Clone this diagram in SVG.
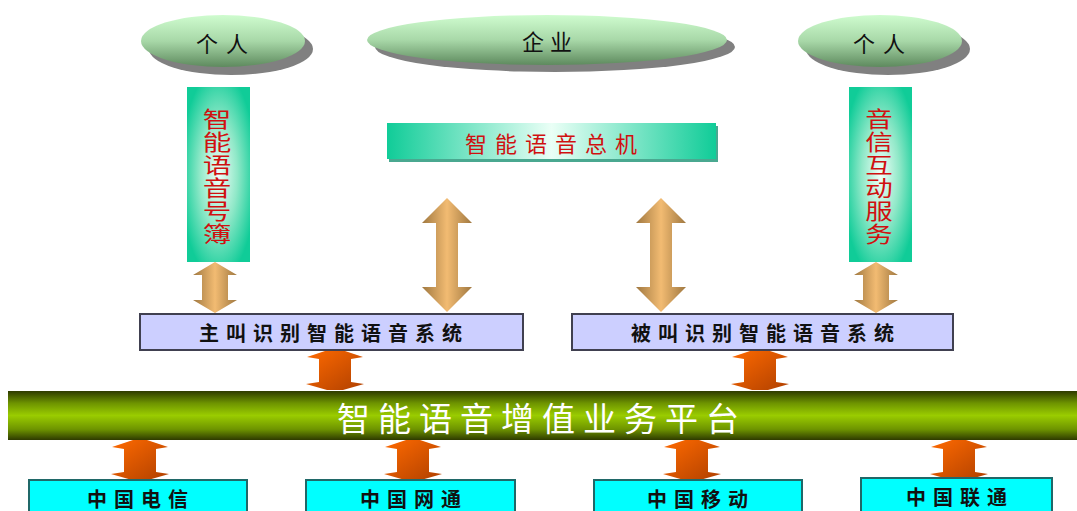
<svg xmlns="http://www.w3.org/2000/svg" width="1077" height="511" viewBox="0 0 1077 511">
<style>
.cjk{font-family:"Noto Sans CJK SC","Noto Sans CJK JP",sans-serif}
.oval{fill:url(#gOval)}
.shadow{fill:#808080}
.teal{fill:url(#gTeal)}
.red{fill:#d01010;font-size:22px;text-anchor:middle;dominant-baseline:central}
.lav{fill:#cccfff;stroke:#404050;stroke-width:2}
.lavt{fill:#111;font-size:20px;font-weight:bold;text-anchor:middle;dominant-baseline:central;letter-spacing:7px}
.cyan{fill:#00ffff;stroke:#206868;stroke-width:2}
.cyant{fill:#111;font-size:20px;font-weight:bold;text-anchor:middle;dominant-baseline:central;letter-spacing:7px}
.tan{fill:url(#gTan)}
.org{fill:url(#gOrg)}
</style>
<defs>
<linearGradient id="gOval" x1="0" y1="0" x2="0" y2="1">
<stop offset="0" stop-color="#cffccf"/><stop offset="0.5" stop-color="#a8d8a8"/><stop offset="1" stop-color="#5e8a5e"/>
</linearGradient>
<radialGradient id="gTeal" cx="0.5" cy="0.5" r="0.6">
<stop offset="0" stop-color="#f0fff8"/><stop offset="0.5" stop-color="#90e8c8"/><stop offset="1" stop-color="#10cc98"/>
</radialGradient>
<linearGradient id="gTealH" x1="0" y1="0" x2="1" y2="0">
<stop offset="0" stop-color="#10cc98"/><stop offset="0.5" stop-color="#eafff6"/><stop offset="1" stop-color="#10cc98"/>
</linearGradient>
<linearGradient id="gTan" x1="0" y1="0" x2="1" y2="0">
<stop offset="0" stop-color="#a07840"/><stop offset="0.5" stop-color="#f2bb72"/><stop offset="1" stop-color="#a07840"/>
</linearGradient>
<linearGradient id="gOrg" x1="0" y1="0" x2="1" y2="1">
<stop offset="0" stop-color="#ff6a00"/><stop offset="1" stop-color="#b04000"/>
</linearGradient>
<linearGradient id="gBar" x1="0" y1="0" x2="0" y2="1">
<stop offset="0" stop-color="#2e3a00"/><stop offset="0.25" stop-color="#6e9400"/><stop offset="0.5" stop-color="#9acc00"/><stop offset="0.78" stop-color="#6e9400"/><stop offset="1" stop-color="#2e3a00"/>
</linearGradient>
<path id="aSmall" d="M0,0 L22,13 L13,13 L13,38 L22,38 L0,51 L-22,38 L-13,38 L-13,13 L-22,13 Z"/>
<path id="aBig" d="M0,0 L25,25 L11,25 L11,89 L25,89 L0,114 L-25,89 L-11,89 L-11,25 L-25,25 Z"/>
<path id="aOrg" d="M-7,0 L7,0 L28,7 L16,9 L16,32 L29,34 L8,40 L-8,40 L-29,34 L-16,32 L-16,9 L-28,7 Z"/>
</defs>

<g id="connectors">
<use href="#aSmall" class="tan" x="215" y="262"/>
<use href="#aSmall" class="tan" x="876" y="262"/>
<use href="#aBig" class="tan" x="447" y="198"/>
<use href="#aBig" class="tan" x="661" y="198"/>
<use href="#aOrg" class="org" x="335" y="350"/>
<use href="#aOrg" class="org" x="760" y="350"/>
<use href="#aOrg" class="org" x="140" y="440"/>
<use href="#aOrg" class="org" x="413" y="440"/>
<use href="#aOrg" class="org" x="692" y="440"/>
<use href="#aOrg" class="org" x="959" y="440"/>
</g>

<g id="person-left">
<ellipse class="shadow" cx="231" cy="49" rx="82" ry="26"/>
<ellipse class="oval" cx="223" cy="41" rx="82" ry="26"/>
<text class="cjk" x="226" y="42" font-size="22" text-anchor="middle" dominant-baseline="central" letter-spacing="8" fill="#111">个人</text>
</g>
<g id="enterprise">
<ellipse class="shadow" cx="555" cy="47" rx="180" ry="25"/>
<ellipse class="oval" cx="547" cy="40" rx="180" ry="25"/>
<text class="cjk" x="550" y="40" font-size="22" text-anchor="middle" dominant-baseline="central" letter-spacing="6" fill="#111">企业</text>
</g>
<g id="person-right">
<ellipse class="shadow" cx="888" cy="49" rx="82" ry="26"/>
<ellipse class="oval" cx="880" cy="41" rx="82" ry="26"/>
<text class="cjk" x="883" y="42" font-size="22" text-anchor="middle" dominant-baseline="central" letter-spacing="8" fill="#111">个人</text>
</g>

<g id="phonebook">
<rect class="teal" x="187" y="87" width="63" height="175"/>
<text class="cjk red" transform="translate(217,0) scale(1.3,1) translate(-217,0)"><tspan x="217" y="117">智</tspan><tspan x="217" y="140">能</tspan><tspan x="217" y="163">语</tspan><tspan x="217" y="186">音</tspan><tspan x="217" y="209">号</tspan><tspan x="217" y="232">簿</tspan></text>
</g>
<g id="interactive">
<rect class="teal" x="849" y="87" width="63" height="175"/>
<text class="cjk red" transform="translate(879,0) scale(1.25,1) translate(-879,0)"><tspan x="879" y="117">音</tspan><tspan x="879" y="140">信</tspan><tspan x="879" y="163">互</tspan><tspan x="879" y="186">动</tspan><tspan x="879" y="209">服</tspan><tspan x="879" y="232">务</tspan></text>
</g>
<g id="switchboard">
<rect x="389" y="126" width="329" height="36" fill="#4aa890"/>
<rect x="387" y="123" width="329" height="36" fill="url(#gTealH)"/>
<text class="cjk" x="555" y="142" font-size="22" fill="#d01010" text-anchor="middle" dominant-baseline="central" letter-spacing="8">智能语音总机</text>
</g>

<g id="caller-system">
<rect class="lav" x="140" y="314" width="383" height="36"/>
<text class="cjk lavt" x="334" y="332">主叫识别智能语音系统</text>
</g>
<g id="callee-system">
<rect class="lav" x="572" y="314" width="381" height="36"/>
<text class="cjk lavt" x="766" y="332">被叫识别智能语音系统</text>
</g>

<g id="platform">
<rect x="8" y="391" width="1069" height="49" fill="url(#gBar)"/>
<text class="cjk" x="542" y="417" font-size="33" fill="#ffffff" text-anchor="middle" dominant-baseline="central" letter-spacing="8">智能语音增值业务平台</text>
</g>

<g id="telecom">
<rect class="cyan" x="29" y="480" width="218" height="40"/>
<text class="cjk cyant" x="141" y="498">中国电信</text>
</g>
<g id="netcom">
<rect class="cyan" x="306" y="480" width="209" height="40"/>
<text class="cjk cyant" x="414" y="498">中国网通</text>
</g>
<g id="mobile">
<rect class="cyan" x="594" y="480" width="208" height="40"/>
<text class="cjk cyant" x="701" y="498">中国移动</text>
</g>
<g id="unicom">
<rect class="cyan" x="861" y="478" width="191" height="42"/>
<text class="cjk cyant" x="960" y="496">中国联通</text>
</g>
</svg>
